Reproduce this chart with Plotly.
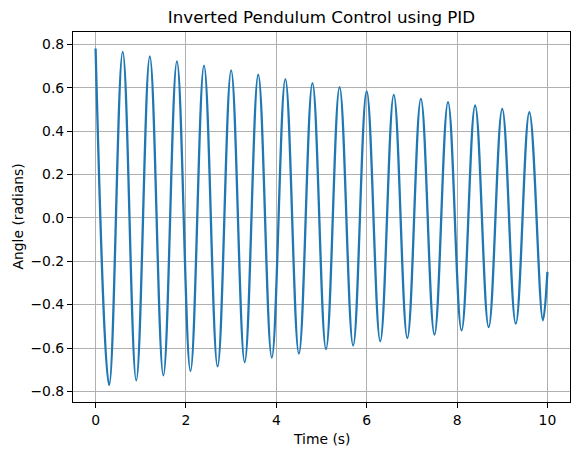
import plotly.graph_objects as go

# Extrema
peak_times = [0.0, 0.6, 1.2, 1.8, 2.4, 3.0, 3.6, 4.2, 4.8, 5.4, 6.0, 6.6, 7.2, 7.8, 8.4, 9.0, 9.6]
peak_vals = [0.781, 0.765, 0.744, 0.722, 0.702, 0.680, 0.660, 0.640, 0.621, 0.603,
             0.584, 0.567, 0.549, 0.534, 0.518, 0.503, 0.487]
trough_times = [0.3, 0.9, 1.5, 2.1, 2.7, 3.3, 3.9, 4.5, 5.1, 5.7, 6.3, 6.9, 7.5, 8.1, 8.7, 9.3, 9.9]
trough_vals = [-0.771, -0.749, -0.726, -0.706, -0.685, -0.665, -0.644, -0.626, -0.605,
               -0.589, -0.569, -0.554, -0.538, -0.519, -0.504, -0.488, -0.472]
end_time = [10.0]
end_val = [-0.249]

x_ticks = [0, 2, 4, 6, 8, 10]
y_ticks = [-0.8, -0.6, -0.4, -0.2, 0.0, 0.2, 0.4, 0.6, 0.8]

pts = sorted(zip(peak_times + trough_times + end_time, peak_vals + trough_vals + end_val))
t = [p[0] for p in pts]
theta = [p[1] for p in pts]

FONT = "DejaVu Sans"

fig = go.Figure()
fig.add_trace(go.Scatter(
    x=t, y=theta, mode="lines",
    line=dict(color="#1f77b4", width=2.3, shape="spline", smoothing=1.1),
    showlegend=False,
))

axis_common = dict(
    showline=True, linecolor="black", linewidth=1.1, mirror=True,
    showgrid=True, gridcolor="#b0b0b0", gridwidth=1.1,
    ticks="outside", ticklen=5, tickwidth=1.1, tickcolor="black",
    zeroline=False, automargin=False,
    tickfont=dict(family=FONT, size=13.9, color="black"),
)

fig.update_layout(
    width=578, height=455,
    margin=dict(l=73, r=8, t=32, b=53, autoexpand=False),
    paper_bgcolor="white", plot_bgcolor="white",
    font=dict(family=FONT, color="black"),
    title=dict(text="Inverted Pendulum Control using PID",
               font=dict(family=FONT, size=16.7, color="black"),
               x=0.5, xref="paper", xanchor="center",
               y=1 - 17 / 455, yref="container", yanchor="middle", automargin=False),
    xaxis=dict(range=[-0.5, 10.5], tickvals=x_ticks, ticktext=[str(v) for v in x_ticks],
               **axis_common),
    yaxis=dict(range=[-0.849, 0.857], tickvals=y_ticks, tickformat=".1f",
               **axis_common),
    annotations=[
        dict(text="Time (s)", xref="paper", yref="paper", x=0.5, y=0,
             xanchor="center", yanchor="middle", yshift=-36.5, showarrow=False,
             font=dict(family=FONT, size=13.9, color="black")),
        dict(text="Angle (radians)", xref="paper", yref="paper", x=0, y=0.5,
             xanchor="center", yanchor="middle", xshift=-55.5, textangle=-90,
             showarrow=False, font=dict(family=FONT, size=13.9, color="black")),
    ],
)

fig.write_html("out.html", config={"displayModeBar": False},
               post_script="document.body.style.margin='0';")
